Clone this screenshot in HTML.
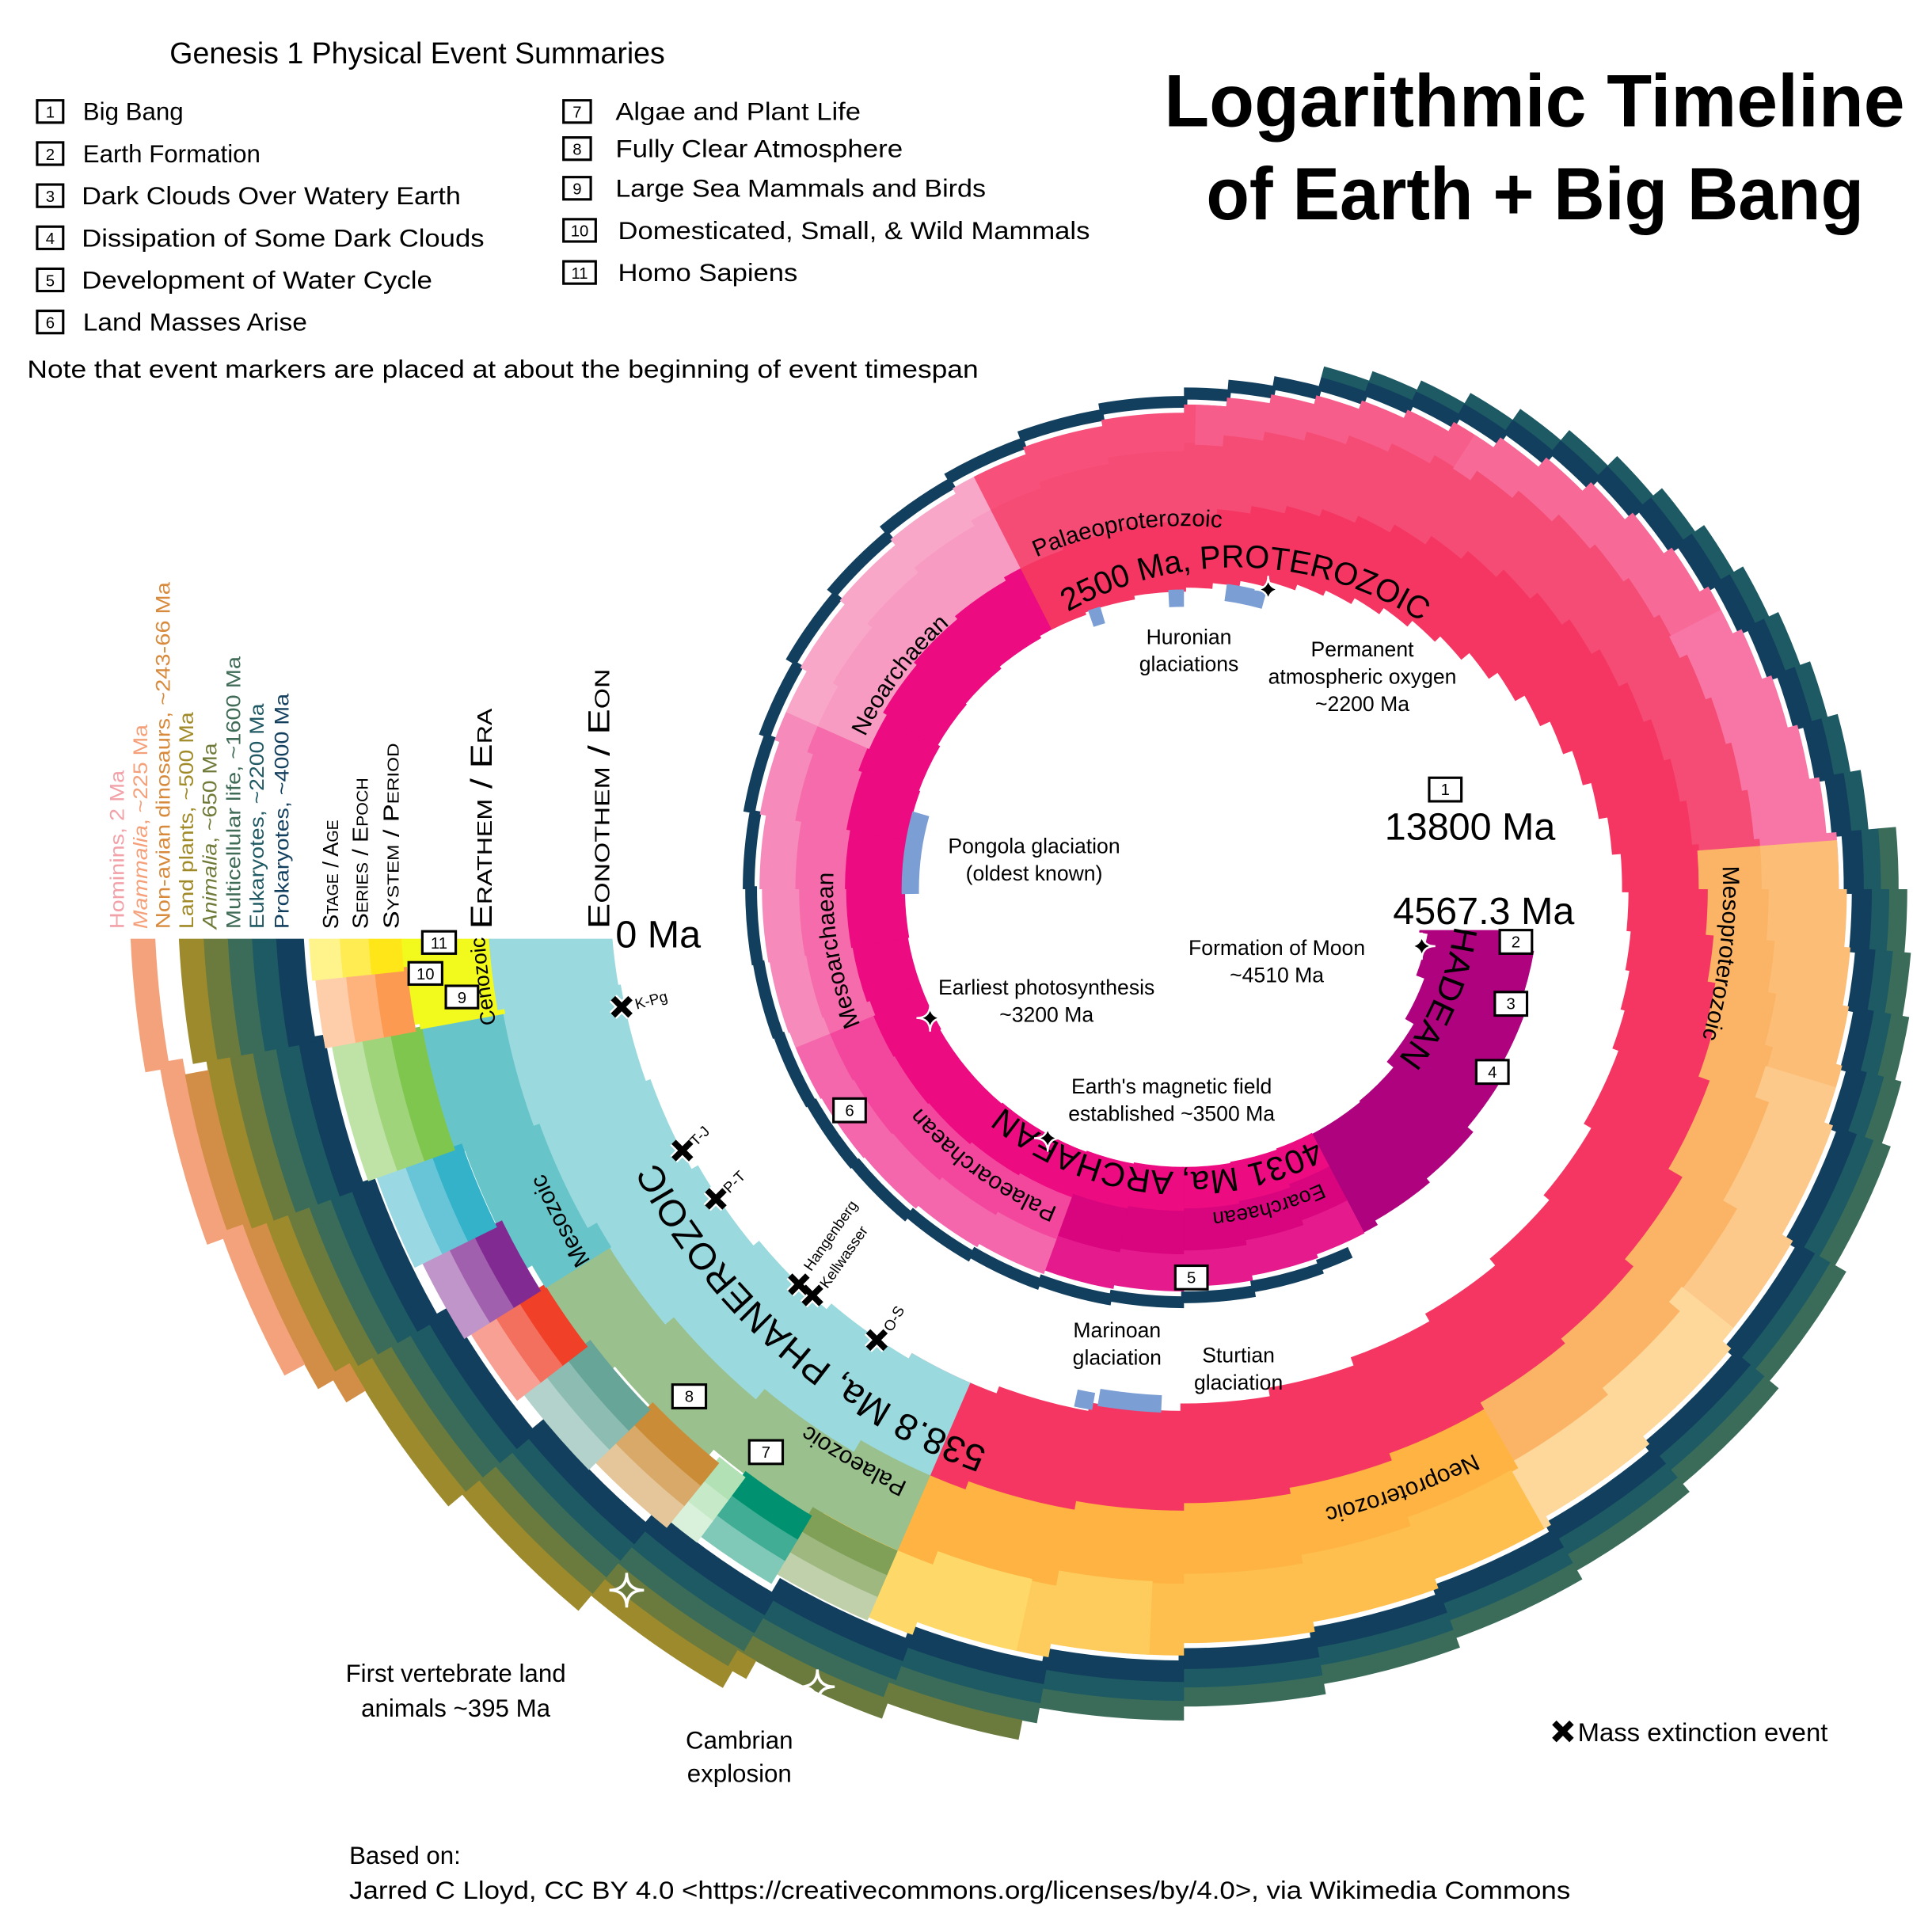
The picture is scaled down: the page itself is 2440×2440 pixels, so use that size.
<!DOCTYPE html>
<html><head><meta charset="utf-8">
<style>
html,body{margin:0;padding:0;background:#fff;overflow:hidden;width:2440px;height:2440px}
svg{display:block}
text{font-family:"Liberation Sans","DejaVu Sans",sans-serif}
.sc{font-variant:small-caps}
</style></head><body>
<svg width="2440" height="2440" viewBox="0 0 1560 1560" xmlns="http://www.w3.org/2000/svg" xmlns:xlink="http://www.w3.org/1999/xlink">
<defs>
<clipPath id="cEnd"><path d="M0 758H1560V1560H0Z M956 0H1560V758H956Z"/></clipPath>
<clipPath id="cHad"><path d="M0 0H956V1560H0Z M956 751H1560V1560H956Z"/></clipPath>
<path id="a1" d="M843.3 506.1 A275 275 0 0 1 1166 515.1"/>
<path id="a2" d="M682.1 612.9 A293.35 293.35 0 0 1 1184 533.4"/>
<path id="a3" d="M678 782.2 A285.35 285.35 0 0 1 941.1 433"/>
<path id="a4" d="M814.3 963.4 A283.35 283.35 0 0 1 739 535.9"/>
<path id="a5" d="M1046 979.3 A276.35 276.35 0 0 1 679.7 713.2"/>
<path id="a6" d="M1180.3 761.6 A228.55 228.55 0 0 1 727.5 714"/>
<path id="a7" d="M1182.9 849 A262 262 0 0 1 825 944.9"/>
<path id="a8" d="M1152.4 618.1 A220.5 220.5 0 0 1 1020.5 928.9"/>
<path id="a9" d="M1356.1 546.5 A435.35 435.35 0 0 1 1304.6 978.8"/>
<path id="a10" d="M1348.5 1047.3 A512.35 512.35 0 0 1 867.1 1222.6"/>
<path id="a11" d="M989.4 1195.4 A478.5 478.5 0 0 1 478.6 751.4"/>
<path id="a12" d="M615.8 1169.5 A565.35 565.35 0 0 1 391.4 747.6"/>
<path id="a13" d="M909.9 1244.3 A528.35 528.35 0 0 1 523.2 1021.1"/>
<path id="a14" d="M454 979.3 A566 566 0 0 1 403.4 595.5"/>
</defs>
<rect width="1560" height="1560" fill="#fff"/>

<g clip-path="url(#cHad)"><g transform="translate(956 718)" fill="none" stroke-dasharray="10.4 400">
<g transform="rotate(0)"><circle pathLength="360" r="237" stroke="#AE027E" stroke-width="88"/></g>
</g></g>

<g transform="translate(956 718)" fill="none" stroke-dasharray="10.4 400">
<g transform="rotate(10)"><circle pathLength="360" r="243.5" stroke="#AE027E" stroke-width="87"/></g>
<g transform="rotate(20)"><circle pathLength="360" r="250" stroke="#AE027E" stroke-width="86"/></g>
<g transform="rotate(30)"><circle pathLength="360" r="257" stroke="#AE027E" stroke-width="84"/></g>
<g transform="rotate(40)"><circle pathLength="360" r="263.5" stroke="#AE027E" stroke-width="83"/></g>
<g transform="rotate(50)"><circle pathLength="360" r="266" stroke="#AE027E" stroke-width="86"/></g>
<g transform="rotate(60)"><circle pathLength="360" r="268" stroke="#AE027E" stroke-width="90"/></g>

<g transform="rotate(70)"><circle pathLength="360" r="325.5" stroke="#123F5E" stroke-width="9.5"/><circle pathLength="360" r="301.5" stroke="#E51B8D" stroke-width="30.5"/><circle pathLength="360" r="271" stroke="#D8057E" stroke-width="33.5"/><circle pathLength="360" r="239.5" stroke="#EC0B80" stroke-width="32.5"/></g>
<g transform="rotate(80)"><circle pathLength="360" r="329.5" stroke="#123F5E" stroke-width="9.5"/><circle pathLength="360" r="305.5" stroke="#E51B8D" stroke-width="30.5"/><circle pathLength="360" r="274" stroke="#D8057E" stroke-width="35.5"/><circle pathLength="360" r="241" stroke="#EC0B80" stroke-width="33.5"/></g>
<g transform="rotate(90)"><circle pathLength="360" r="333.5" stroke="#123F5E" stroke-width="9.5"/><circle pathLength="360" r="309" stroke="#E51B8D" stroke-width="31.5"/><circle pathLength="360" r="276.5" stroke="#D8057E" stroke-width="36.5"/><circle pathLength="360" r="242" stroke="#EC0B80" stroke-width="35.5"/></g>
<g transform="rotate(100)"><circle pathLength="360" r="336.5" stroke="#123F5E" stroke-width="9.5"/><circle pathLength="360" r="312" stroke="#E51B8D" stroke-width="31.5"/><circle pathLength="360" r="279" stroke="#D8057E" stroke-width="37.5"/><circle pathLength="360" r="243.5" stroke="#EC0B80" stroke-width="36.5"/></g>
<g transform="rotate(110)"><circle pathLength="360" r="339.5" stroke="#123F5E" stroke-width="9.5"/><circle pathLength="360" r="315" stroke="#F467AD" stroke-width="31.5"/><circle pathLength="360" r="282" stroke="#F3479E" stroke-width="37.5"/><circle pathLength="360" r="245.5" stroke="#EC0B80" stroke-width="38.5"/></g>
<g transform="rotate(120)"><circle pathLength="360" r="342.5" stroke="#123F5E" stroke-width="9.5"/><circle pathLength="360" r="318" stroke="#F467AD" stroke-width="31.5"/><circle pathLength="360" r="284.5" stroke="#F3479E" stroke-width="38.5"/><circle pathLength="360" r="246.5" stroke="#EC0B80" stroke-width="40.5"/></g>
<g transform="rotate(130)"><circle pathLength="360" r="345.5" stroke="#123F5E" stroke-width="9.5"/><circle pathLength="360" r="321" stroke="#F467AD" stroke-width="31.5"/><circle pathLength="360" r="287" stroke="#F3479E" stroke-width="39.5"/><circle pathLength="360" r="248" stroke="#EC0B80" stroke-width="41.5"/></g>
<g transform="rotate(140)"><circle pathLength="360" r="346.5" stroke="#123F5E" stroke-width="9.5"/><circle pathLength="360" r="322" stroke="#F467AD" stroke-width="31.5"/><circle pathLength="360" r="288" stroke="#F3479E" stroke-width="39.5"/><circle pathLength="360" r="248.5" stroke="#EC0B80" stroke-width="42.5"/></g>
<g transform="rotate(150)"><circle pathLength="360" r="347.5" stroke="#123F5E" stroke-width="9.5"/><circle pathLength="360" r="323" stroke="#F467AD" stroke-width="31.5"/><circle pathLength="360" r="289" stroke="#F3479E" stroke-width="39.5"/><circle pathLength="360" r="248.5" stroke="#EC0B80" stroke-width="44.5"/></g>
<g transform="rotate(160)"><circle pathLength="360" r="348.5" stroke="#123F5E" stroke-width="9.5"/><circle pathLength="360" r="324" stroke="#F68ABA" stroke-width="31.5"/><circle pathLength="360" r="290" stroke="#F56BAB" stroke-width="39.5"/><circle pathLength="360" r="249" stroke="#EC0B80" stroke-width="45.5"/></g>
<g transform="rotate(170)"><circle pathLength="360" r="349.5" stroke="#123F5E" stroke-width="9.5"/><circle pathLength="360" r="325" stroke="#F68ABA" stroke-width="31.5"/><circle pathLength="360" r="291" stroke="#F56BAB" stroke-width="39.5"/><circle pathLength="360" r="249" stroke="#EC0B80" stroke-width="47.5"/></g>
<g transform="rotate(180)"><circle pathLength="360" r="351.5" stroke="#123F5E" stroke-width="9.5"/><circle pathLength="360" r="327.5" stroke="#F68ABA" stroke-width="30.5"/><circle pathLength="360" r="293" stroke="#F56BAB" stroke-width="41.5"/><circle pathLength="360" r="250" stroke="#EC0B80" stroke-width="47.5"/></g>
<g transform="rotate(190)"><circle pathLength="360" r="356.5" stroke="#123F5E" stroke-width="9.5"/><circle pathLength="360" r="332.5" stroke="#F68ABA" stroke-width="30.5"/><circle pathLength="360" r="297" stroke="#F56BAB" stroke-width="43.5"/><circle pathLength="360" r="252" stroke="#EC0B80" stroke-width="49.5"/></g>
<g transform="rotate(200)"><circle pathLength="360" r="360.5" stroke="#123F5E" stroke-width="9.5"/><circle pathLength="360" r="337" stroke="#F68ABA" stroke-width="29.5"/><circle pathLength="360" r="301" stroke="#F56BAB" stroke-width="45.5"/><circle pathLength="360" r="254" stroke="#EC0B80" stroke-width="51.5"/></g>
<g transform="rotate(210)"><circle pathLength="360" r="366.5" stroke="#123F5E" stroke-width="9.5"/><circle pathLength="360" r="342.5" stroke="#F9A7C8" stroke-width="30.5"/><circle pathLength="360" r="304.5" stroke="#F89BC2" stroke-width="48.5"/><circle pathLength="360" r="256" stroke="#EC0B80" stroke-width="51.5"/></g>
<g transform="rotate(220)"><circle pathLength="360" r="371.5" stroke="#123F5E" stroke-width="9.5"/><circle pathLength="360" r="347.5" stroke="#F9A7C8" stroke-width="30.5"/><circle pathLength="360" r="308.5" stroke="#F89BC2" stroke-width="50.5"/><circle pathLength="360" r="258" stroke="#EC0B80" stroke-width="53.5"/></g>
<g transform="rotate(230)"><circle pathLength="360" r="377.5" stroke="#123F5E" stroke-width="9.5"/><circle pathLength="360" r="353" stroke="#F9A7C8" stroke-width="31.5"/><circle pathLength="360" r="312.5" stroke="#F89BC2" stroke-width="52.5"/><circle pathLength="360" r="260.5" stroke="#EC0B80" stroke-width="54.5"/></g>
<g transform="rotate(240)"><circle pathLength="360" r="382.5" stroke="#123F5E" stroke-width="9.5"/><circle pathLength="360" r="358" stroke="#F9A7C8" stroke-width="31.5"/><circle pathLength="360" r="316.5" stroke="#F89BC2" stroke-width="54.5"/><circle pathLength="360" r="263" stroke="#EC0B80" stroke-width="55.5"/></g>
<g transform="rotate(250)"><circle pathLength="360" r="388.5" stroke="#123F5E" stroke-width="9.5"/><circle pathLength="360" r="363.5" stroke="#F7507B" stroke-width="32.5"/><circle pathLength="360" r="320.5" stroke="#F54C75" stroke-width="56.5"/><circle pathLength="360" r="265.5" stroke="#F53662" stroke-width="56.5"/></g>
<g transform="rotate(260)"><circle pathLength="360" r="393.5" stroke="#123F5E" stroke-width="9.5"/><circle pathLength="360" r="368.5" stroke="#F7507B" stroke-width="32.5"/><circle pathLength="360" r="324.5" stroke="#F54C75" stroke-width="58.5"/><circle pathLength="360" r="268.5" stroke="#F53662" stroke-width="56.5"/></g>
</g>

<g transform="translate(956 718)" fill="none" stroke-dasharray="5.4 400">
<g transform="rotate(270)"><circle pathLength="360" r="400.25" stroke="#123F5E" stroke-width="9.8"/><circle pathLength="360" r="375.15" stroke="#F7507B" stroke-width="32.4"/><circle pathLength="360" r="330.4" stroke="#F54C75" stroke-width="60.1"/><circle pathLength="360" r="272.7" stroke="#F53662" stroke-width="58.3"/></g>
<g transform="rotate(271.4)" stroke-dasharray="4 400"><circle pathLength="360" r="375.15" stroke="#F75D8A" stroke-width="32.4"/></g>
<g transform="rotate(275)"><circle pathLength="360" r="407.7" stroke="#123F5E" stroke-width="10.4"/><circle pathLength="360" r="382.4" stroke="#F75D8A" stroke-width="32.25"/><circle pathLength="360" r="337.1" stroke="#F54C75" stroke-width="61.25"/><circle pathLength="360" r="278.1" stroke="#F53662" stroke-width="59.75"/></g>
<g transform="rotate(280)"><circle pathLength="360" r="415.15" stroke="#123F5E" stroke-width="11"/><circle pathLength="360" r="389.6" stroke="#F75D8A" stroke-width="32.1"/><circle pathLength="360" r="343.85" stroke="#F54C75" stroke-width="62.4"/><circle pathLength="360" r="283.55" stroke="#F53662" stroke-width="61.2"/></g>
<g transform="rotate(285)"><circle pathLength="360" r="422.65" stroke="#123F5E" stroke-width="11.6"/><circle pathLength="360" r="432.5" stroke="#1D5A64" stroke-width="9.1"/><circle pathLength="360" r="396.9" stroke="#F75D8A" stroke-width="31.9"/><circle pathLength="360" r="350.65" stroke="#F54C75" stroke-width="63.6"/><circle pathLength="360" r="288.95" stroke="#F53662" stroke-width="62.8"/></g>
<g transform="rotate(290)"><circle pathLength="360" r="430.1" stroke="#123F5E" stroke-width="12.25"/><circle pathLength="360" r="440.45" stroke="#1D5A64" stroke-width="9.4"/><circle pathLength="360" r="404.1" stroke="#F75D8A" stroke-width="31.75"/><circle pathLength="360" r="357.4" stroke="#F54C75" stroke-width="64.75"/><circle pathLength="360" r="294.4" stroke="#F53662" stroke-width="64.25"/></g>
<g transform="rotate(295)"><circle pathLength="360" r="437.55" stroke="#123F5E" stroke-width="12.8"/><circle pathLength="360" r="448.35" stroke="#1D5A64" stroke-width="9.8"/><circle pathLength="360" r="411.35" stroke="#F75D8A" stroke-width="31.6"/><circle pathLength="360" r="364.1" stroke="#F54C75" stroke-width="65.9"/><circle pathLength="360" r="299.8" stroke="#F53662" stroke-width="65.7"/></g>
<g transform="rotate(300)"><circle pathLength="360" r="446.35" stroke="#123F5E" stroke-width="13.4"/><circle pathLength="360" r="457.65" stroke="#1D5A64" stroke-width="10.2"/><circle pathLength="360" r="419.4" stroke="#F75D8A" stroke-width="32.5"/><circle pathLength="360" r="371.55" stroke="#F54C75" stroke-width="66.2"/><circle pathLength="360" r="306.15" stroke="#F53662" stroke-width="67.6"/></g>
<g transform="rotate(302.6)" stroke-dasharray="2.8 400"><circle pathLength="360" r="419.4" stroke="#F76A98" stroke-width="32.5"/></g>
<g transform="rotate(305)"><circle pathLength="360" r="456.35" stroke="#123F5E" stroke-width="14"/><circle pathLength="360" r="468.15" stroke="#1D5A64" stroke-width="10.6"/><circle pathLength="360" r="428.15" stroke="#F76A98" stroke-width="34.4"/><circle pathLength="360" r="379.6" stroke="#F54C75" stroke-width="65.7"/><circle pathLength="360" r="313.35" stroke="#F53662" stroke-width="69.8"/></g>
<g transform="rotate(310)"><circle pathLength="360" r="466.3" stroke="#123F5E" stroke-width="14.55"/><circle pathLength="360" r="478.55" stroke="#1D5A64" stroke-width="10.9"/><circle pathLength="360" r="436.85" stroke="#F76A98" stroke-width="36.4"/><circle pathLength="360" r="387.6" stroke="#F54C75" stroke-width="65.1"/><circle pathLength="360" r="320.55" stroke="#F53662" stroke-width="72"/></g>
<g transform="rotate(315)"><circle pathLength="360" r="476.3" stroke="#123F5E" stroke-width="15.1"/><circle pathLength="360" r="489" stroke="#1D5A64" stroke-width="11.3"/><circle pathLength="360" r="445.6" stroke="#F76A98" stroke-width="38.3"/><circle pathLength="360" r="395.7" stroke="#F54C75" stroke-width="64.5"/><circle pathLength="360" r="327.8" stroke="#F53662" stroke-width="74.3"/></g>
<g transform="rotate(320)"><circle pathLength="360" r="484.8" stroke="#123F5E" stroke-width="15.7"/><circle pathLength="360" r="498" stroke="#1D5A64" stroke-width="11.7"/><circle pathLength="360" r="452.35" stroke="#F76A98" stroke-width="41.2"/><circle pathLength="360" r="402.1" stroke="#F54C75" stroke-width="62.25"/><circle pathLength="360" r="335.8" stroke="#F53662" stroke-width="73.45"/></g>
<g transform="rotate(325)"><circle pathLength="360" r="493" stroke="#123F5E" stroke-width="16.25"/><circle pathLength="360" r="506.65" stroke="#1D5A64" stroke-width="12.1"/><circle pathLength="360" r="458.8" stroke="#F76A98" stroke-width="44.1"/><circle pathLength="360" r="408.4" stroke="#F54C75" stroke-width="59.75"/><circle pathLength="360" r="343.8" stroke="#F53662" stroke-width="72.35"/></g>
<g transform="rotate(330)"><circle pathLength="360" r="501.1" stroke="#123F5E" stroke-width="16.5"/><circle pathLength="360" r="515.05" stroke="#1D5A64" stroke-width="12.4"/><circle pathLength="360" r="465.3" stroke="#F76A98" stroke-width="47.1"/><circle pathLength="360" r="414.6" stroke="#F54C75" stroke-width="57.25"/><circle pathLength="360" r="351.9" stroke="#F53662" stroke-width="71.25"/></g>
<g transform="rotate(332.5)" stroke-dasharray="2.9 400"><circle pathLength="360" r="465.3" stroke="#F876A6" stroke-width="47.1"/></g>
<g transform="rotate(335)"><circle pathLength="360" r="509" stroke="#123F5E" stroke-width="16.5"/><circle pathLength="360" r="523.15" stroke="#1D5A64" stroke-width="12.8"/><circle pathLength="360" r="471.75" stroke="#F876A6" stroke-width="50"/><circle pathLength="360" r="420.9" stroke="#F54C75" stroke-width="54.75"/><circle pathLength="360" r="360" stroke="#F53662" stroke-width="70"/></g>
<g transform="rotate(340)"><circle pathLength="360" r="517" stroke="#123F5E" stroke-width="16.55"/><circle pathLength="360" r="531.4" stroke="#1D5A64" stroke-width="13.2"/><circle pathLength="360" r="478.1" stroke="#F876A6" stroke-width="53.25"/><circle pathLength="360" r="426.4" stroke="#F54C75" stroke-width="53.15"/><circle pathLength="360" r="367.05" stroke="#F53662" stroke-width="68.6"/></g>
<g transform="rotate(345)"><circle pathLength="360" r="525.05" stroke="#123F5E" stroke-width="16.6"/><circle pathLength="360" r="539.65" stroke="#1D5A64" stroke-width="13.6"/><circle pathLength="360" r="484.4" stroke="#F876A6" stroke-width="56.75"/><circle pathLength="360" r="431.3" stroke="#F54C75" stroke-width="52.35"/><circle pathLength="360" r="373.2" stroke="#F53662" stroke-width="66.9"/></g>
<g transform="rotate(350)"><circle pathLength="360" r="533.1" stroke="#123F5E" stroke-width="16.65"/><circle pathLength="360" r="547.85" stroke="#1D5A64" stroke-width="13.9"/><circle pathLength="360" r="490.6" stroke="#F876A6" stroke-width="60.25"/><circle pathLength="360" r="436.2" stroke="#F54C75" stroke-width="51.65"/><circle pathLength="360" r="379.3" stroke="#F53662" stroke-width="65.1"/></g>
<g transform="rotate(355)"><circle pathLength="360" r="541.1" stroke="#123F5E" stroke-width="16.7"/><circle pathLength="360" r="556.1" stroke="#1D5A64" stroke-width="14.3"/><circle pathLength="360" r="569.9" stroke="#3A6C59" stroke-width="14.3"/><circle pathLength="360" r="496.9" stroke="#F876A6" stroke-width="63.75"/><circle pathLength="360" r="441.1" stroke="#F54C75" stroke-width="50.85"/><circle pathLength="360" r="385.45" stroke="#F53662" stroke-width="63.4"/></g>
<g transform="rotate(355.7)" stroke-dasharray="4.7 400"><circle pathLength="360" r="496.9" stroke="#FCBD76" stroke-width="63.75"/><circle pathLength="360" r="441.1" stroke="#FBB466" stroke-width="50.85"/></g>
<g transform="rotate(360)"><circle pathLength="360" r="547.6" stroke="#123F5E" stroke-width="16.7"/><circle pathLength="360" r="562.7" stroke="#1D5A64" stroke-width="14.55"/><circle pathLength="360" r="576.75" stroke="#3A6C59" stroke-width="14.55"/><circle pathLength="360" r="502.95" stroke="#FCBD76" stroke-width="64.6"/><circle pathLength="360" r="446.8" stroke="#FBB466" stroke-width="50.7"/><circle pathLength="360" r="390.95" stroke="#F53662" stroke-width="64"/></g>
<g transform="rotate(365)"><circle pathLength="360" r="552.6" stroke="#123F5E" stroke-width="16.75"/><circle pathLength="360" r="567.8" stroke="#1D5A64" stroke-width="14.6"/><circle pathLength="360" r="581.9" stroke="#3A6C59" stroke-width="14.6"/><circle pathLength="360" r="508.8" stroke="#FCBD76" stroke-width="62.9"/><circle pathLength="360" r="453.35" stroke="#FBB466" stroke-width="51"/><circle pathLength="360" r="395.85" stroke="#F53662" stroke-width="67"/></g>
<g transform="rotate(370)"><circle pathLength="360" r="557.65" stroke="#123F5E" stroke-width="16.8"/><circle pathLength="360" r="573.1" stroke="#1D5A64" stroke-width="14.7"/><circle pathLength="360" r="587.3" stroke="#3A6C59" stroke-width="14.7"/><circle pathLength="360" r="514.7" stroke="#FCBD76" stroke-width="61.1"/><circle pathLength="360" r="459.95" stroke="#FBB466" stroke-width="51.4"/><circle pathLength="360" r="400.7" stroke="#F53662" stroke-width="70.1"/></g>
<g transform="rotate(375)"><circle pathLength="360" r="562.65" stroke="#123F5E" stroke-width="16.8"/><circle pathLength="360" r="578.2" stroke="#1D5A64" stroke-width="14.7"/><circle pathLength="360" r="592.5" stroke="#3A6C59" stroke-width="14.7"/><circle pathLength="360" r="520.55" stroke="#FCBD76" stroke-width="59.4"/><circle pathLength="360" r="466.5" stroke="#FBB466" stroke-width="51.7"/><circle pathLength="360" r="405.6" stroke="#F53662" stroke-width="73.1"/></g>
<g transform="rotate(376.9)" stroke-dasharray="3.5 400"><circle pathLength="360" r="520.55" stroke="#FDC98A" stroke-width="59.4"/></g>
</g>

<g transform="translate(956 718)" fill="none" stroke-dasharray="10.4 400">
<g transform="rotate(380)"><circle pathLength="360" r="570.2" stroke="#123F5E" stroke-width="16.9"/><circle pathLength="360" r="585.6" stroke="#1D5A64" stroke-width="14.8"/><circle pathLength="360" r="599.9" stroke="#3A6C59" stroke-width="14.8"/><circle pathLength="360" r="529.5" stroke="#FDC98A" stroke-width="56.5"/><circle pathLength="360" r="476.5" stroke="#FBB466" stroke-width="52.5"/><circle pathLength="360" r="413" stroke="#F53662" stroke-width="77.5"/></g>
<g transform="rotate(390)"><circle pathLength="360" r="580.3" stroke="#123F5E" stroke-width="17"/><circle pathLength="360" r="595.7" stroke="#1D5A64" stroke-width="14.9"/><circle pathLength="360" r="610.1" stroke="#3A6C59" stroke-width="14.9"/><circle pathLength="360" r="541" stroke="#FDC98A" stroke-width="53.5"/><circle pathLength="360" r="489.5" stroke="#FBB466" stroke-width="52.5"/><circle pathLength="360" r="423" stroke="#F53662" stroke-width="83.5"/></g>
<g transform="rotate(400)"><circle pathLength="360" r="589.3" stroke="#123F5E" stroke-width="17.1"/><circle pathLength="360" r="604.9" stroke="#1D5A64" stroke-width="15"/><circle pathLength="360" r="619.4" stroke="#3A6C59" stroke-width="15"/><circle pathLength="360" r="550.5" stroke="#FED79A" stroke-width="52.5"/><circle pathLength="360" r="499" stroke="#FBB466" stroke-width="53.5"/><circle pathLength="360" r="430.5" stroke="#F53662" stroke-width="86.5"/></g>
<g transform="rotate(410)"><circle pathLength="360" r="597.4" stroke="#123F5E" stroke-width="17.2"/><circle pathLength="360" r="613" stroke="#1D5A64" stroke-width="15.1"/><circle pathLength="360" r="627.6" stroke="#3A6C59" stroke-width="15.1"/><circle pathLength="360" r="558" stroke="#FED79A" stroke-width="53.5"/><circle pathLength="360" r="505" stroke="#FBB466" stroke-width="55.5"/><circle pathLength="360" r="436.5" stroke="#F53662" stroke-width="84.5"/></g>
<g transform="rotate(420)"><circle pathLength="360" r="605.4" stroke="#123F5E" stroke-width="17.25"/><circle pathLength="360" r="621.1" stroke="#1D5A64" stroke-width="15.2"/><circle pathLength="360" r="635.8" stroke="#3A6C59" stroke-width="15.2"/><circle pathLength="360" r="565.5" stroke="#FED79A" stroke-width="54.5"/><circle pathLength="360" r="511.5" stroke="#FEB342" stroke-width="56.5"/><circle pathLength="360" r="443" stroke="#F53662" stroke-width="83.5"/></g>
<g transform="rotate(430)"><circle pathLength="360" r="613.4" stroke="#123F5E" stroke-width="17.3"/><circle pathLength="360" r="629.2" stroke="#1D5A64" stroke-width="15.3"/><circle pathLength="360" r="644" stroke="#3A6C59" stroke-width="15.3"/><circle pathLength="360" r="572.5" stroke="#FEBF4E" stroke-width="56.5"/><circle pathLength="360" r="517.5" stroke="#FEB342" stroke-width="56.5"/><circle pathLength="360" r="449.5" stroke="#F53662" stroke-width="82.5"/></g>
<g transform="rotate(440)"><circle pathLength="360" r="621.5" stroke="#123F5E" stroke-width="17.4"/><circle pathLength="360" r="637.35" stroke="#1D5A64" stroke-width="15.4"/><circle pathLength="360" r="652.25" stroke="#3A6C59" stroke-width="15.4"/><circle pathLength="360" r="580" stroke="#FEBF4E" stroke-width="57.5"/><circle pathLength="360" r="523.5" stroke="#FEB342" stroke-width="58.5"/><circle pathLength="360" r="455.5" stroke="#F53662" stroke-width="80.5"/></g>
<g transform="rotate(450)"><circle pathLength="360" r="631.7" stroke="#123F5E" stroke-width="17.8"/><circle pathLength="360" r="648" stroke="#1D5A64" stroke-width="15.8"/><circle pathLength="360" r="663.3" stroke="#3A6C59" stroke-width="15.8"/><circle pathLength="360" r="589" stroke="#FEBF4E" stroke-width="59.5"/><circle pathLength="360" r="530.5" stroke="#FEB342" stroke-width="60.5"/><circle pathLength="360" r="461.5" stroke="#F53662" stroke-width="80.5"/></g>
<g transform="rotate(460)"><circle pathLength="360" r="643" stroke="#123F5E" stroke-width="18.5"/><circle pathLength="360" r="659.9" stroke="#1D5A64" stroke-width="16.3"/><circle pathLength="360" r="675.7" stroke="#3A6C59" stroke-width="16.3"/><circle pathLength="360" r="600" stroke="#FECC5C" stroke-width="59.5"/><circle pathLength="360" r="539.5" stroke="#FEB342" stroke-width="64.5"/><circle pathLength="360" r="468.5" stroke="#F53662" stroke-width="80.5"/></g>
<g transform="rotate(470)"><circle pathLength="360" r="654.3" stroke="#123F5E" stroke-width="19.1"/><circle pathLength="360" r="671.75" stroke="#1D5A64" stroke-width="16.8"/><circle pathLength="360" r="688" stroke="#3A6C59" stroke-width="16.8"/><circle pathLength="360" r="704.4" stroke="#6B7B3D" stroke-width="16.8"/><circle pathLength="360" r="610.5" stroke="#FED96A" stroke-width="60.5"/><circle pathLength="360" r="548" stroke="#FEB342" stroke-width="67.5"/><circle pathLength="360" r="475" stroke="#F53662" stroke-width="81.5"/></g>
<g transform="rotate(480)"><circle pathLength="360" r="667.6" stroke="#123F5E" stroke-width="19.7"/><circle pathLength="360" r="685.6" stroke="#1D5A64" stroke-width="17.3"/><circle pathLength="360" r="702.4" stroke="#3A6C59" stroke-width="17.3"/><circle pathLength="360" r="719.2" stroke="#6B7B3D" stroke-width="17.3"/><circle pathLength="360" r="736" stroke="#9C8A2C" stroke-width="17.3"/><circle pathLength="360" r="558" stroke="#99C08D" stroke-width="65.5"/><circle pathLength="360" r="483" stroke="#9AD9DD" stroke-width="87.5"/></g>
<g transform="rotate(490)"><circle pathLength="360" r="680.9" stroke="#123F5E" stroke-width="20.3"/><circle pathLength="360" r="699.5" stroke="#1D5A64" stroke-width="17.9"/><circle pathLength="360" r="716.9" stroke="#3A6C59" stroke-width="17.9"/><circle pathLength="360" r="734.3" stroke="#6B7B3D" stroke-width="17.9"/><circle pathLength="360" r="751.7" stroke="#9C8A2C" stroke-width="17.9"/><circle pathLength="360" r="568" stroke="#99C08D" stroke-width="63.5"/><circle pathLength="360" r="491.5" stroke="#9AD9DD" stroke-width="92.5"/></g>
<g transform="rotate(500)"><circle pathLength="360" r="693.25" stroke="#123F5E" stroke-width="21"/><circle pathLength="360" r="712.45" stroke="#1D5A64" stroke-width="18.4"/><circle pathLength="360" r="730.35" stroke="#3A6C59" stroke-width="18.4"/><circle pathLength="360" r="748.25" stroke="#6B7B3D" stroke-width="18.4"/><circle pathLength="360" r="766.15" stroke="#9C8A2C" stroke-width="18.4"/><circle pathLength="360" r="576.5" stroke="#99C08D" stroke-width="62.5"/><circle pathLength="360" r="499" stroke="#9AD9DD" stroke-width="95.5"/></g>
<g transform="rotate(510)"><circle pathLength="360" r="704.5" stroke="#123F5E" stroke-width="21.5"/><circle pathLength="360" r="724.2" stroke="#1D5A64" stroke-width="18.9"/><circle pathLength="360" r="742.6" stroke="#3A6C59" stroke-width="18.9"/><circle pathLength="360" r="761" stroke="#6B7B3D" stroke-width="18.9"/><circle pathLength="360" r="779.4" stroke="#9C8A2C" stroke-width="18.9"/><circle pathLength="360" r="797.8" stroke="#D28E47" stroke-width="18.9"/><circle pathLength="360" r="585" stroke="#67C5CA" stroke-width="65.5"/><circle pathLength="360" r="505.5" stroke="#9AD9DD" stroke-width="96.5"/></g>
<g transform="rotate(520)"><circle pathLength="360" r="714.85" stroke="#123F5E" stroke-width="22.2"/><circle pathLength="360" r="735.15" stroke="#1D5A64" stroke-width="19.4"/><circle pathLength="360" r="754.05" stroke="#3A6C59" stroke-width="19.4"/><circle pathLength="360" r="772.95" stroke="#6B7B3D" stroke-width="19.4"/><circle pathLength="360" r="791.85" stroke="#9C8A2C" stroke-width="19.4"/><circle pathLength="360" r="829.65" stroke="#F4A27C" stroke-width="19.4"/><circle pathLength="360" r="592" stroke="#67C5CA" stroke-width="69.5"/><circle pathLength="360" r="510" stroke="#9AD9DD" stroke-width="97.5"/></g>
<g transform="rotate(520)" stroke-dasharray="9.5 400"><circle pathLength="360" r="810.75" stroke="#D28E47" stroke-width="19.4"/></g>

<g transform="rotate(62.3)" stroke-dasharray="8.1 400"><circle pathLength="360" r="298" stroke="#E51B8D" stroke-width="31.5"/><circle pathLength="360" r="267.5" stroke="#D8057E" stroke-width="32.5"/><circle pathLength="360" r="237.5" stroke="#EC0B80" stroke-width="30.5"/></g>
<g transform="rotate(65.4)" stroke-dasharray="5 400"><circle pathLength="360" r="322.5" stroke="#123F5E" stroke-width="9.5"/></g>
<g transform="rotate(157.8)" stroke-dasharray="2.6 400"><circle pathLength="360" r="323" stroke="#F68ABA" stroke-width="31.5"/><circle pathLength="360" r="289" stroke="#F56BAB" stroke-width="39.5"/></g>
<g transform="rotate(204)" stroke-dasharray="6.4 400"><circle pathLength="360" r="337" stroke="#F9A7C8" stroke-width="29.5"/><circle pathLength="360" r="301" stroke="#F89BC2" stroke-width="45.5"/></g>
<g transform="rotate(243)" stroke-dasharray="7.4 400"><circle pathLength="360" r="358" stroke="#F7507B" stroke-width="31.5"/><circle pathLength="360" r="316.5" stroke="#F54C75" stroke-width="54.5"/><circle pathLength="360" r="263" stroke="#F53662" stroke-width="55.5"/></g>
<g transform="rotate(398.6)" stroke-dasharray="1.8 400"><circle pathLength="360" r="541" stroke="#FED79A" stroke-width="53.5"/></g>
<g transform="rotate(420.6)" stroke-dasharray="9.8 400"><circle pathLength="360" r="565.5" stroke="#FEBF4E" stroke-width="54.5"/></g>
<g transform="rotate(452.6)" stroke-dasharray="7.8 400"><circle pathLength="360" r="589" stroke="#FECC5C" stroke-width="59.5"/></g>
<g transform="rotate(461)" stroke-dasharray="9.4 400"><circle pathLength="360" r="691.5" stroke="#6B7B3D" stroke-width="16.3"/></g>
<g transform="rotate(462.4)" stroke-dasharray="8 400"><circle pathLength="360" r="600" stroke="#FED96A" stroke-width="59.5"/></g>
<g transform="rotate(479)" stroke-dasharray="1.4 400"><circle pathLength="360" r="720.7" stroke="#9C8A2C" stroke-width="16.8"/></g>
<g transform="rotate(508.5)" stroke-dasharray="1.9 400"><circle pathLength="360" r="784.05" stroke="#D28E47" stroke-width="18.4"/></g>
<g transform="rotate(511.6)" stroke-dasharray="8.8 400"><circle pathLength="360" r="816.2" stroke="#F4A27C" stroke-width="18.9"/></g>

<g transform="rotate(473.4)" stroke-dasharray="7.6 400"><circle pathLength="360" r="593.5" stroke="#7FA056" stroke-width="23.1"/><circle pathLength="360" r="613.9" stroke="#9FB880" stroke-width="20.7"/><circle pathLength="360" r="633.1" stroke="#BFD0AB" stroke-width="20.7"/></g>
<g transform="rotate(480.7)" stroke-dasharray="6.3 400"><circle pathLength="360" r="600.3" stroke="#009270" stroke-width="24"/><circle pathLength="360" r="621.6" stroke="#40AD94" stroke-width="21.6"/><circle pathLength="360" r="641.6" stroke="#80C9B8" stroke-width="21.5"/></g>
<g transform="rotate(486.7)" stroke-dasharray="2.6 400"><circle pathLength="360" r="604.6" stroke="#B3E1B6" stroke-width="24.6"/><circle pathLength="360" r="626.4" stroke="#C6E9C8" stroke-width="22.1"/><circle pathLength="360" r="647" stroke="#D9F0DB" stroke-width="22"/></g>
<g transform="rotate(489)" stroke-dasharray="7 400"><circle pathLength="360" r="608.9" stroke="#CB8C37" stroke-width="25.2"/><circle pathLength="360" r="631.2" stroke="#D8A969" stroke-width="22.5"/><circle pathLength="360" r="652.3" stroke="#E5C69B" stroke-width="22.6"/></g>
<g transform="rotate(495.7)" stroke-dasharray="7.1 400"><circle pathLength="360" r="614.8" stroke="#67A599" stroke-width="26"/><circle pathLength="360" r="638" stroke="#8DBCB3" stroke-width="23.4"/><circle pathLength="360" r="659.8" stroke="#B3D2CC" stroke-width="23.3"/></g>
<g transform="rotate(502.5)" stroke-dasharray="5.8 400"><circle pathLength="360" r="620.25" stroke="#F04028" stroke-width="26.8"/><circle pathLength="360" r="644.2" stroke="#F4705E" stroke-width="24"/><circle pathLength="360" r="666.7" stroke="#F8A094" stroke-width="24"/></g>
<g transform="rotate(508)" stroke-dasharray="6.1 400"><circle pathLength="360" r="625.8" stroke="#812B92" stroke-width="27.3"/><circle pathLength="360" r="650.2" stroke="#A160AD" stroke-width="24.4"/><circle pathLength="360" r="673" stroke="#C095C9" stroke-width="24.4"/></g>
<g transform="rotate(513.8)" stroke-dasharray="6.8 400"><circle pathLength="360" r="632" stroke="#34B2C9" stroke-width="27.6"/><circle pathLength="360" r="656.7" stroke="#67C5D7" stroke-width="24.7"/><circle pathLength="360" r="679.9" stroke="#9AD9E4" stroke-width="24.7"/></g>
<g transform="rotate(520.3)" stroke-dasharray="9.5 400"><circle pathLength="360" r="639" stroke="#7FC64E" stroke-width="27.8"/><circle pathLength="360" r="663.8" stroke="#9FD47A" stroke-width="24.8"/><circle pathLength="360" r="687.2" stroke="#BFE3A7" stroke-width="24.9"/></g>
<g transform="rotate(529.5)" stroke-dasharray="4.8 400"><circle pathLength="360" r="644.5" stroke="#FD9A52" stroke-width="27.8"/><circle pathLength="360" r="669.3" stroke="#FEB37D" stroke-width="24.8"/><circle pathLength="360" r="692.7" stroke="#FECDA9" stroke-width="24.9"/></g>
<g transform="rotate(473.4)" stroke-dasharray="7 400"><circle pathLength="360" r="548" stroke="#99C08D" stroke-width="67.5"/><circle pathLength="360" r="475" stroke="#9AD9DD" stroke-width="81.5"/></g>
<g transform="rotate(508)" stroke-dasharray="2.4 400"><circle pathLength="360" r="576.5" stroke="#67C5CA" stroke-width="62.5"/></g>
<g transform="rotate(529.6)" stroke-dasharray="0.8 400"><circle pathLength="360" r="592" stroke="#F2F91D" stroke-width="69.5"/></g>

<g stroke="#7B9ED4">
<g transform="rotate(251)" stroke-dasharray="2.5 400"><circle pathLength="360" r="231" stroke-width="14"/></g>
<g transform="rotate(267)" stroke-dasharray="3 400"><circle pathLength="360" r="235" stroke-width="14"/></g>
<g transform="rotate(278)" stroke-dasharray="7.5 400"><circle pathLength="360" r="242" stroke-width="14"/></g>
<g transform="rotate(179)" stroke-dasharray="17 400"><circle pathLength="360" r="221" stroke-width="14"/></g>
<g transform="rotate(452.5)" stroke-dasharray="7 400"><circle pathLength="360" r="416" stroke-width="14"/></g>
<g transform="rotate(460)" stroke-dasharray="2 400"><circle pathLength="360" r="420" stroke-width="14"/></g>
</g>
</g>

<g clip-path="url(#cEnd)"><g transform="translate(956 718)" fill="none" stroke-dasharray="10.4 400">
<g transform="rotate(530)"><circle pathLength="360" r="723.15" stroke="#123F5E" stroke-width="22.8"/><circle pathLength="360" r="744.05" stroke="#1D5A64" stroke-width="20"/><circle pathLength="360" r="763.55" stroke="#3A6C59" stroke-width="20"/><circle pathLength="360" r="783.05" stroke="#6B7B3D" stroke-width="20"/><circle pathLength="360" r="802.55" stroke="#9C8A2C" stroke-width="20"/><circle pathLength="360" r="841.55" stroke="#F4A27C" stroke-width="20"/><circle pathLength="360" r="598" stroke="#F2F91D" stroke-width="73.5"/><circle pathLength="360" r="513" stroke="#9AD9DD" stroke-width="99.5"/></g>
<g transform="rotate(529.5)" stroke-dasharray="4.8 400"><circle pathLength="360" r="644.5" stroke="#FD9A52" stroke-width="27.8"/><circle pathLength="360" r="669.3" stroke="#FEB37D" stroke-width="24.8"/><circle pathLength="360" r="692.7" stroke="#FECDA9" stroke-width="24.9"/></g>
<g transform="rotate(534)" stroke-dasharray="3.3 400"><circle pathLength="360" r="647.1" stroke="#FFE619" stroke-width="27.8"/><circle pathLength="360" r="672" stroke="#FFEC52" stroke-width="24.8"/><circle pathLength="360" r="695.3" stroke="#FFF38C" stroke-width="24.9"/></g>
<g transform="rotate(537)" stroke-dasharray="4 400"><circle pathLength="360" r="647.1" stroke="#F9F97F" stroke-width="27.8"/><circle pathLength="360" r="672" stroke="#FAFA9F" stroke-width="24.8"/><circle pathLength="360" r="695.3" stroke="#FCFCBF" stroke-width="24.9"/></g>
<g transform="rotate(537.5)" stroke-dasharray="3 400"><circle pathLength="360" r="868" stroke="#F2A1A8" stroke-width="5"/></g>
</g></g>

<text x="137" y="51" font-size="24">Genesis 1 Physical Event Summaries</text>
<g font-size="20">
<rect x="30" y="81" width="21" height="18" fill="#fff" stroke="#000" stroke-width="2"/><text x="40.5" y="95" font-size="13" text-anchor="middle">1</text><text x="67" y="97">Big Bang</text>
<rect x="30" y="115" width="21" height="18" fill="#fff" stroke="#000" stroke-width="2"/><text x="40.5" y="129" font-size="13" text-anchor="middle">2</text><text x="67" y="131">Earth Formation</text>
<rect x="30" y="149" width="21" height="18" fill="#fff" stroke="#000" stroke-width="2"/><text x="40.5" y="163" font-size="13" text-anchor="middle">3</text><text x="66" y="165" textLength="306" lengthAdjust="spacingAndGlyphs">Dark Clouds Over Watery Earth</text>
<rect x="30" y="183" width="21" height="18" fill="#fff" stroke="#000" stroke-width="2"/><text x="40.5" y="197" font-size="13" text-anchor="middle">4</text><text x="66" y="199" textLength="325" lengthAdjust="spacingAndGlyphs">Dissipation of Some Dark Clouds</text>
<rect x="30" y="217" width="21" height="18" fill="#fff" stroke="#000" stroke-width="2"/><text x="40.5" y="231" font-size="13" text-anchor="middle">5</text><text x="66" y="233" textLength="283" lengthAdjust="spacingAndGlyphs">Development of Water Cycle</text>
<rect x="30" y="251" width="21" height="18" fill="#fff" stroke="#000" stroke-width="2"/><text x="40.5" y="265" font-size="13" text-anchor="middle">6</text><text x="67" y="267" textLength="181" lengthAdjust="spacingAndGlyphs">Land Masses Arise</text>
<rect x="455" y="81" width="22" height="18" fill="#fff" stroke="#000" stroke-width="2"/><text x="466" y="95" font-size="13" text-anchor="middle">7</text><text x="497" y="97" textLength="198" lengthAdjust="spacingAndGlyphs">Algae and Plant Life</text>
<rect x="455" y="111" width="22" height="18" fill="#fff" stroke="#000" stroke-width="2"/><text x="466" y="125" font-size="13" text-anchor="middle">8</text><text x="497" y="127" textLength="232" lengthAdjust="spacingAndGlyphs">Fully Clear Atmosphere</text>
<rect x="455" y="143" width="22" height="18" fill="#fff" stroke="#000" stroke-width="2"/><text x="466" y="157" font-size="13" text-anchor="middle">9</text><text x="497" y="159" textLength="299" lengthAdjust="spacingAndGlyphs">Large Sea Mammals and Birds</text>
<rect x="455" y="177" width="26" height="18" fill="#fff" stroke="#000" stroke-width="2"/><text x="468" y="191" font-size="13" text-anchor="middle">10</text><text x="499" y="193" textLength="381" lengthAdjust="spacingAndGlyphs">Domesticated, Small, &amp; Wild Mammals</text>
<rect x="455" y="211" width="26" height="18" fill="#fff" stroke="#000" stroke-width="2"/><text x="468" y="225" font-size="13" text-anchor="middle">11</text><text x="499" y="227" textLength="145" lengthAdjust="spacingAndGlyphs">Homo Sapiens</text>
<text x="22" y="305" textLength="768" lengthAdjust="spacingAndGlyphs">Note that event markers are placed at about the beginning of event timespan</text>
</g>
<text x="940" y="102" font-size="60" font-weight="bold" textLength="598" lengthAdjust="spacingAndGlyphs">Logarithmic Timeline</text>
<text x="974" y="177" font-size="60" font-weight="bold" textLength="531" lengthAdjust="spacingAndGlyphs">of Earth + Big Bang</text>

<g font-size="16">
<text transform="translate(100,750) rotate(-90)" fill="#F2A1A8" textLength="128" lengthAdjust="spacingAndGlyphs">Hominins, 2 Ma</text>
<text transform="translate(119,750) rotate(-90)" fill="#F4A07A" textLength="165" lengthAdjust="spacingAndGlyphs"><tspan font-style="italic">Mammalia</tspan>, ~225 Ma</text>
<text transform="translate(137,750) rotate(-90)" fill="#D88A3C" textLength="280" lengthAdjust="spacingAndGlyphs">Non-avian dinosaurs, ~243-66 Ma</text>
<text transform="translate(156,750) rotate(-90)" fill="#A08A28" textLength="175" lengthAdjust="spacingAndGlyphs">Land plants, ~500 Ma</text>
<text transform="translate(175,750) rotate(-90)" fill="#6F7A38" textLength="150" lengthAdjust="spacingAndGlyphs"><tspan font-style="italic">Animalia</tspan>, ~650 Ma</text>
<text transform="translate(194,750) rotate(-90)" fill="#3F6B57" textLength="220" lengthAdjust="spacingAndGlyphs">Multicellular life, ~1600 Ma</text>
<text transform="translate(213,750) rotate(-90)" fill="#1F5A64" textLength="182" lengthAdjust="spacingAndGlyphs">Eukaryotes, ~2200 Ma</text>
<text transform="translate(233,750) rotate(-90)" fill="#123F5E" textLength="190" lengthAdjust="spacingAndGlyphs">Prokaryotes, ~4000 Ma</text>
</g>
<g font-size="18" class="sc">
<text transform="translate(273,750) rotate(-90)" textLength="88" lengthAdjust="spacingAndGlyphs">Stage / Age</text>
<text transform="translate(297,750) rotate(-90)" textLength="122" lengthAdjust="spacingAndGlyphs">Series / Epoch</text>
<text transform="translate(322,750) rotate(-90)" textLength="150" lengthAdjust="spacingAndGlyphs">System / Period</text>
</g>
<g font-size="24" class="sc">
<text transform="translate(397,750) rotate(-90)" textLength="178" lengthAdjust="spacingAndGlyphs">Erathem / Era</text>
<text transform="translate(492,750) rotate(-90)" textLength="210" lengthAdjust="spacingAndGlyphs">Eonothem / Eon</text>
</g>
<text x="497" y="765" font-size="31">0 Ma</text>

<g fill="#000">
<text font-size="26"><textPath href="#a1" xlink:href="#a1" startOffset="50%" text-anchor="middle" textLength="300" lengthAdjust="spacingAndGlyphs">2500 Ma, PROTEROZOIC</textPath></text>
<text font-size="19"><textPath href="#a2" xlink:href="#a2" startOffset="50%" text-anchor="middle">Palaeoproterozoic</textPath></text>
<text font-size="19"><textPath href="#a3" xlink:href="#a3" startOffset="50%" text-anchor="middle">Neoarchaean</textPath></text>
<text font-size="19"><textPath href="#a4" xlink:href="#a4" startOffset="50%" text-anchor="middle">Mesoarchaean</textPath></text>
<text font-size="19"><textPath href="#a5" xlink:href="#a5" startOffset="50%" text-anchor="middle">Palaeoarchaean</textPath></text>
<text font-size="27"><textPath href="#a6" xlink:href="#a6" startOffset="50%" text-anchor="middle">4031 Ma, ARCHAEAN</textPath></text>
<text font-size="17"><textPath href="#a7" xlink:href="#a7" startOffset="50%" text-anchor="middle">Eoarchaean</textPath></text>
<text font-size="27"><textPath href="#a8" xlink:href="#a8" startOffset="50%" text-anchor="middle" textLength="118" lengthAdjust="spacingAndGlyphs">HADEAN</textPath></text>
<text font-size="19"><textPath href="#a9" xlink:href="#a9" startOffset="50%" text-anchor="middle">Mesoproterozoic</textPath></text>
<text font-size="19"><textPath href="#a10" xlink:href="#a10" startOffset="50%" text-anchor="middle">Neoproterozoic</textPath></text>
<text font-size="30"><textPath href="#a11" xlink:href="#a11" startOffset="50%" text-anchor="middle">538.8 Ma, PHANEROZOIC</textPath></text>
<text font-size="19"><textPath href="#a12" xlink:href="#a12" startOffset="50%" text-anchor="middle">Mesozoic</textPath></text>
<text font-size="19"><textPath href="#a13" xlink:href="#a13" startOffset="50%" text-anchor="middle">Palaeozoic</textPath></text>
<text font-size="17"><textPath href="#a14" xlink:href="#a14" startOffset="50%" text-anchor="middle">Cenozoic</textPath></text>
</g>

<g font-size="17" text-anchor="middle">
<text x="960" y="520">Huronian</text><text x="960" y="542">glaciations</text>
<text x="1100" y="530">Permanent</text><text x="1100" y="552">atmospheric oxygen</text><text x="1100" y="574">~2200 Ma</text>
<text x="835" y="689">Pongola glaciation</text><text x="835" y="711">(oldest known)</text>
<text x="845" y="803">Earliest photosynthesis</text><text x="845" y="825">~3200 Ma</text>
<text x="1031" y="771">Formation of Moon</text><text x="1031" y="793">~4510 Ma</text>
<text x="946" y="883">Earth's magnetic field</text><text x="946" y="905">established ~3500 Ma</text>
<text x="902" y="1080">Marinoan</text><text x="902" y="1102">glaciation</text>
<text x="1000" y="1100">Sturtian</text><text x="1000" y="1122">glaciation</text>
</g>
<text x="1187" y="678" font-size="31" text-anchor="middle">13800 Ma</text>
<text x="1198" y="746" font-size="31" text-anchor="middle">4567.3 Ma</text>

<g font-size="13" text-anchor="middle">
<rect x="1154" y="628" width="26" height="19" fill="#fff" stroke="#000" stroke-width="2"/><text x="1167" y="642">1</text>
<rect x="1211" y="751" width="26" height="19" fill="#fff" stroke="#000" stroke-width="2"/><text x="1224" y="765">2</text>
<rect x="1207" y="801" width="26" height="19" fill="#fff" stroke="#000" stroke-width="2"/><text x="1220" y="815">3</text>
<rect x="1192" y="856" width="26" height="19" fill="#fff" stroke="#000" stroke-width="2"/><text x="1205" y="870">4</text>
<rect x="949" y="1022" width="26" height="19" fill="#fff" stroke="#000" stroke-width="2"/><text x="962" y="1036">5</text>
<rect x="673" y="887" width="26" height="19" fill="#fff" stroke="#000" stroke-width="2"/><text x="686" y="901">6</text>
<rect x="605" y="1163" width="27" height="19" fill="#fff" stroke="#000" stroke-width="2"/><text x="618.5" y="1177">7</text>
<rect x="543" y="1118" width="27" height="19" fill="#fff" stroke="#000" stroke-width="2"/><text x="556.5" y="1132">8</text>
<rect x="360" y="796" width="26" height="18" fill="#fff" stroke="#000" stroke-width="2"/><text x="373" y="810">9</text>
<rect x="330" y="777" width="27" height="18" fill="#fff" stroke="#000" stroke-width="2"/><text x="343.5" y="791">10</text>
<rect x="341" y="752" width="27" height="18" fill="#fff" stroke="#000" stroke-width="2"/><text x="354.5" y="766">11</text>
</g>

<g fill="#000" stroke="#fff" stroke-width="1.5">
<path d="M1024 465Q1024 476 1035 476Q1024 476 1024 487Q1024 476 1013 476Q1024 476 1024 465Z"/>
<path d="M751 811Q751 822 762 822Q751 822 751 833Q751 822 740 822Q751 822 751 811Z"/>
<path d="M846 908Q846 919 857 919Q846 919 846 930Q846 919 835 919Q846 919 846 908Z"/>
<path d="M1148 753Q1148 764 1159 764Q1148 764 1148 775Q1148 764 1137 764Q1148 764 1148 753Z"/>
</g>
<g fill="none" stroke="#fff" stroke-width="2.2">
<path d="M506 1270Q506 1284 520 1284Q506 1284 506 1298Q506 1284 492 1284Q506 1284 506 1270Z"/>
<path d="M660 1348Q660 1362 674 1362Q660 1362 660 1376Q660 1362 646 1362Q660 1362 660 1348Z"/>
</g>

<g fill="none">
<path stroke="#fff" stroke-width="8" d="M495 806L509 820M509 806L495 820 M544 922L558 936M558 922L544 936 M571 961L585 975M585 961L571 975 M638 1030L652 1044M652 1030L638 1044 M649 1039L663 1053M663 1039L649 1053 M701 1075L715 1089M715 1075L701 1089"/>
<path stroke="#000" stroke-width="5" d="M495 806L509 820M509 806L495 820 M544 922L558 936M558 922L544 936 M571 961L585 975M585 961L571 975 M638 1030L652 1044M652 1030L638 1044 M649 1039L663 1053M663 1039L649 1053 M701 1075L715 1089M715 1075L701 1089 M1255 1391L1269 1405M1269 1391L1255 1405"/>
</g>
<g font-size="12">
<text transform="translate(514,815) rotate(-15)">K-Pg</text>
<text transform="translate(562,926) rotate(-45)">T-J</text>
<text transform="translate(589,964) rotate(-45)">P-T</text>
<text transform="translate(655,1027) rotate(-55)">Hangenberg</text>
<text transform="translate(668,1041) rotate(-55)">Kellwasser</text>
<text transform="translate(720,1076) rotate(-60)">O-S</text>
</g>

<g font-size="20" text-anchor="middle">
<text x="368" y="1358">First vertebrate land</text><text x="368" y="1386">animals ~395 Ma</text>
<text x="597" y="1412">Cambrian</text><text x="597" y="1439">explosion</text>
</g>
<text x="1274" y="1406" font-size="21">Mass extinction event</text>
<text x="282" y="1505" font-size="20">Based on:</text>
<text x="282" y="1533" font-size="20" textLength="986" lengthAdjust="spacingAndGlyphs">Jarred C Lloyd, CC BY 4.0 &lt;https://creativecommons.org/licenses/by/4.0&gt;, via Wikimedia Commons</text>
</svg>
</body></html>
